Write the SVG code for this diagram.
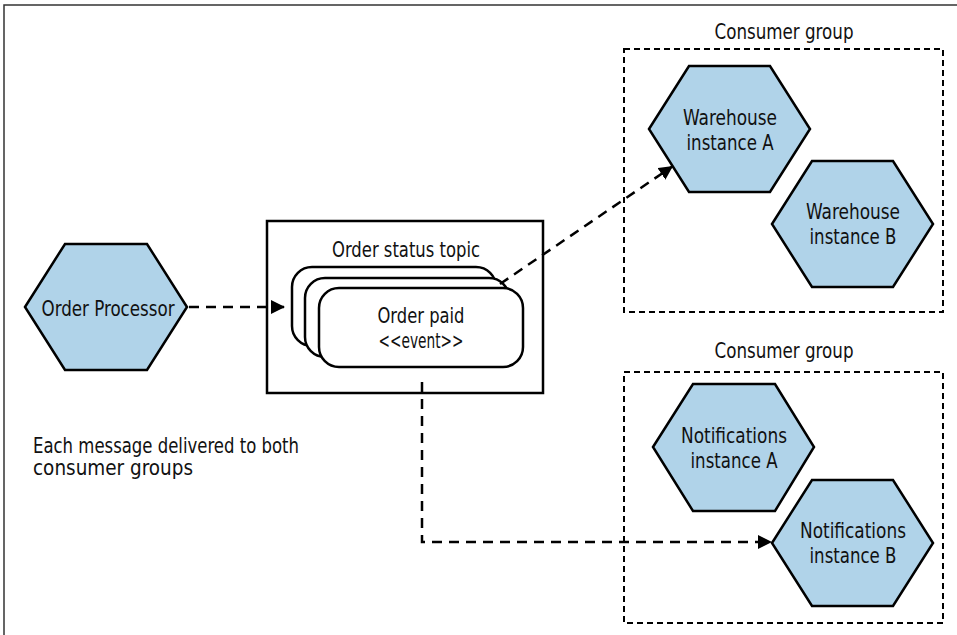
<svg xmlns="http://www.w3.org/2000/svg" width="957" height="635" viewBox="0 0 957 635">
<defs>
<marker id="ah" markerUnits="userSpaceOnUse" markerWidth="16" markerHeight="14" refX="14" refY="7" orient="auto">
<path d="M0,0 L14,7 L0,14 Z" fill="#000"/>
</marker>
<style>
text{font-family:"DejaVu Sans Condensed","DejaVu Sans","Liberation Sans",sans-serif;font-stretch:condensed;font-size:20.5px;fill:#111;}
.c{text-anchor:middle;}
.hex{fill:#b0d3e9;stroke:#000;stroke-width:2.5;stroke-linejoin:miter;}
.card{fill:#fff;stroke:#000;stroke-width:2.5;}
.box{fill:#fff;stroke:#000;stroke-width:2.5;}
.grp{fill:none;stroke:#000;stroke-width:2;stroke-dasharray:6,4;}
.conn{fill:none;stroke:#000;stroke-width:2.5;stroke-dasharray:10,7;}
</style>
</defs>
<rect width="957" height="635" fill="#fff"/>
<path d="M4,635 V5 H957" fill="none" stroke="#333" stroke-width="1.5"/>

<g id="group-warehouse">
<rect class="grp" x="624" y="49" width="319" height="263"/>
<text class="c" x="784" y="39" textLength="139" lengthAdjust="spacingAndGlyphs">Consumer group</text>
</g>
<g id="group-notifications">
<rect class="grp" x="624" y="372" width="319" height="251"/>
<text class="c" x="784" y="358" textLength="139" lengthAdjust="spacingAndGlyphs">Consumer group</text>
</g>

<g id="order-processor">
<polygon class="hex" points="25,307 65,244 147,244 187,307 147,370 65,370"/>
<text class="c" x="108" y="316" textLength="133" lengthAdjust="spacingAndGlyphs">Order Processor</text>
</g>

<g id="order-status-topic">
<rect class="box" x="267" y="221" width="276" height="172"/>
<text class="c" x="406" y="257" textLength="148" lengthAdjust="spacingAndGlyphs">Order status topic</text>
<rect class="card" x="292" y="267" width="204" height="79" rx="20"/>
<rect class="card" x="305" y="278" width="204" height="79" rx="20"/>
<rect class="card" x="319" y="288" width="204" height="79" rx="20"/>
<text class="c" x="421" y="323" textLength="87" lengthAdjust="spacingAndGlyphs">Order paid</text>
<text class="c" x="421" y="348" textLength="85" lengthAdjust="spacingAndGlyphs">&lt;&lt;event&gt;&gt;</text>
</g>

<g id="warehouse-a">
<polygon class="hex" points="649,129 689,66 770,66 810,129 770,192 689,192"/>
<text class="c" x="730" y="125" textLength="94" lengthAdjust="spacingAndGlyphs">Warehouse</text>
<text class="c" x="730" y="150" textLength="87" lengthAdjust="spacingAndGlyphs">instance A</text>
</g>
<g id="warehouse-b">
<polygon class="hex" points="772,224 812,161 893,161 933,224 893,287 812,287"/>
<text class="c" x="853" y="219" textLength="94" lengthAdjust="spacingAndGlyphs">Warehouse</text>
<text class="c" x="853" y="244" textLength="87" lengthAdjust="spacingAndGlyphs">instance B</text>
</g>
<g id="notifications-a">
<polygon class="hex" points="653,447 693,384 775,384 814,447 775,511 693,511"/>
<text class="c" x="734" y="443" textLength="106" lengthAdjust="spacingAndGlyphs">Notifications</text>
<text class="c" x="734" y="468" textLength="87" lengthAdjust="spacingAndGlyphs">instance A</text>
</g>
<g id="notifications-b">
<polygon class="hex" points="772,543 812,480 893,480 933,543 893,606 812,606"/>
<text class="c" x="853" y="538" textLength="106" lengthAdjust="spacingAndGlyphs">Notifications</text>
<text class="c" x="853" y="563" textLength="87" lengthAdjust="spacingAndGlyphs">instance B</text>
</g>

<g id="connectors">
<path class="conn" d="M189,307 H285" marker-end="url(#ah)"/>
<path class="conn" d="M500,284 L673,166" marker-end="url(#ah)"/>
<path class="conn" d="M422,382 V542 H772" marker-end="url(#ah)"/>
</g>

<g id="note">
<text x="33" y="453" textLength="266" lengthAdjust="spacingAndGlyphs">Each message delivered to both</text>
<text x="33" y="475" textLength="160" lengthAdjust="spacingAndGlyphs">consumer groups</text>
</g>
</svg>
